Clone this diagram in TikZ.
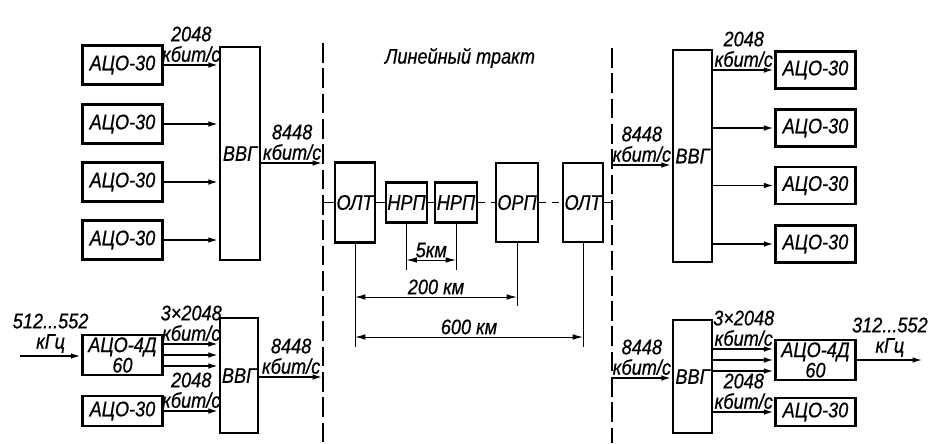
\documentclass[tikz,border=0pt]{standalone}
\usepackage{fontspec}
\setmainfont{Liberation Sans}[FakeStretch=0.86,FakeBold=0.6]
\usetikzlibrary{arrows.meta,calc}

\begin{document}
\begin{tikzpicture}[x=0.025cm,y=-0.025cm,line width=1.4pt,font=\fontsize{15}{14.5}\selectfont\itshape,
    >={Latex[length=2.6mm,width=1.4mm]},
    blk/.style={draw,line width=1.8pt,inner sep=0pt,align=center,minimum width=2cm,minimum height=0.98cm},
    mux/.style={draw,line width=1.8pt,inner sep=0pt,minimum width=1cm},
    lbl/.style={above,align=center,inner sep=1.5pt},
    dim/.style={line width=0.7pt},
    sect/.style={line width=1pt,dash pattern=on 14pt off 4pt},
    chn/.style={dash pattern=on 5pt off 4pt}]
\useasboundingbox (0,0) rectangle (937,443);

\coordinate (Lt) at (323,43); \coordinate (Lb) at (323,443);
\coordinate (Rt) at (612,48); \coordinate (Rb) at (612,443);
\draw[sect] (Lt) -- (Lb);
\draw[sect] (Rt) -- (Rb);
\node (title) at (460,58) {Линейный тракт};

\node[mux,minimum height=5.325cm] (V1) at (240,153.5) {ВВГ};
\foreach \y [count=\n] in {65,124,182,240} {
    \node[blk] (A\n) at (122.5,\y) {АЦО-30};
    \draw[->] (A\n) -- (A\n -| V1.west);
}
\path (A1) -- (A1 -| V1.west) node[lbl,midway] (l1) {2048\\кбит/с};
\coordinate (p1) at (323,163);
\draw[->] (V1.east|-p1) -- (p1) node[lbl,midway] (l2) {8448\\кбит/с};

\node[mux,minimum width=0.95cm,minimum height=2.875cm] (V2) at (239,375.5) {ВВГ};
\node[blk,minimum height=1cm] (D1) at (122.5,355) {АЦО-4Д\\60};
\node[blk,minimum height=0.75cm] (A5) at (122.5,411) {АЦО-30};
\coordinate (in1) at (20,356);
\draw[->] (in1) -- (in1-|D1.west) node[lbl,midway] (l3) {512...552\\кГц};
\foreach \dy [count=\n] in {-11,0,11} {
    \coordinate (t\n) at ($(D1.east)+(0,\dy)$);
    \draw[->] (t\n) -- (t\n -| V2.west);
}
\path (t1) -- (t1 -| V2.west) node[lbl,midway] (l4) {3×2048\\кбит/с};
\draw[->] (A5) -- (A5 -| V2.west) node[lbl,midway] (l5) {2048\\кбит/с};
\coordinate (p2) at (323,377);
\draw[->] (V2.east|-p2) -- (p2) node[lbl,midway] (l6) {8448\\кбит/с};

\node[mux,minimum height=2cm] (O1) at (355,202.5) {ОЛТ};
\node[mux,minimum width=1.025cm,minimum height=1cm] (N1) at (406.5,202.5) {НРП};
\node[mux,minimum width=1.05cm,minimum height=1cm] (N2) at (456,202.5) {НРП};
\node[mux,minimum width=1.05cm,minimum height=1.975cm] (R) at (517,202.5) {ОРП};
\node[mux,minimum height=1.975cm] (O2) at (583,202.5) {ОЛТ};
\draw (Lt|-O1) -- (O1);
\draw (O1) -- (N1) (N1) -- (N2);
\draw[chn] (N2) -- (R) (R) -- (O2);
\draw (O2) -- (Rt|-O2);

\coordinate (e5) at (0,270); \coordinate (h5) at (0,260);
\coordinate (e2) at (0,306); \coordinate (h2) at (0,297);
\coordinate (e6) at (0,347); \coordinate (h6) at (0,337);
\draw[dim] (N1.south) -- (N1.south|-e5);
\draw[dim] (N2.south) -- (N2.south|-e5);
\draw[dim] (R.south) -- (R.south|-e2);
\draw[dim] (O1.south) -- (O1.south|-e6);
\draw[dim] (O2.south) -- (O2.south|-e6);
\draw[dim,<->] (N1.south|-h5) -- (N2.south|-h5) node[lbl,midway] (l7) {5км};
\draw[dim,<->] (O1.south|-h2) -- (R.south|-h2) node[lbl,midway] (l8) {200 км};
\draw[dim,<->] (O1.south|-h6) -- (O2.south|-h6) node[lbl,midway] (l9) {600 км};

\node[mux,minimum width=0.975cm,minimum height=5.3cm] (V3) at (692.5,156) {ВВГ};
\foreach \y [count=\n] in {70,128,185.5,244} {
    \node[blk,minimum height=0.925cm] (B\n) at (815.5,\y) {АЦО-30};
    \draw[->] (V3.east|-B\n) -- (B\n);
}
\path (V3.east|-B1) -- (B1) node[lbl,midway] (l10) {2048\\кбит/с};
\coordinate (p3) at (612,165);
\draw[->] (p3) -- (p3-|V3.west) node[lbl,midway] (l11) {8448\\кбит/с};

\node[mux,minimum width=0.975cm,minimum height=2.825cm] (V4) at (692.5,376.5) {ВВГ};
\node[blk,minimum height=1cm] (D2) at (815.5,360) {АЦО-4Д\\60};
\node[blk,minimum height=0.7cm] (B5) at (815.5,412) {АЦО-30};
\coordinate (p4) at (612,378);
\draw[->] (p4) -- (p4-|V4.west) node[lbl,midway] (l12) {8448\\кбит/с};
\foreach \dy [count=\n] in {-11,0,11} {
    \coordinate (u\n) at ($(D2.west)+(0,\dy)$);
    \draw[->] (u\n -| V4.east) -- (u\n);
}
\path (u1 -| V4.east) -- (u1) node[lbl,midway] (l13) {3×2048\\кбит/с};
\draw[->] (V4.east|-B5) -- (B5) node[lbl,midway] (l14) {2048\\кбит/с};
\coordinate (out2) at (923,360);
\draw[->] (D2) -- (out2) node[lbl,midway] (l15) {312...552\\кГц};
\end{tikzpicture}
\end{document}
